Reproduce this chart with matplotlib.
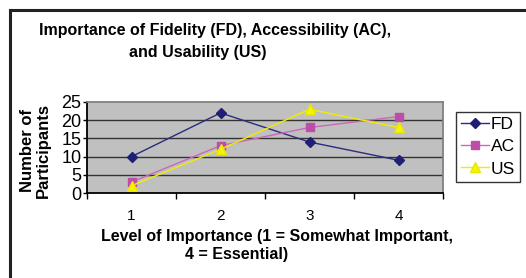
import matplotlib.pyplot as plt
from matplotlib.lines import Line2D

levels = [1, 2, 3, 4]
fd = [10, 22, 14, 9]
ac = [3, 13, 18, 21]
us = [2, 12, 23, 18]
yticks = [0, 5, 10, 15, 20, 25]

plt.rcParams['font.family'] = ['Liberation Sans', 'DejaVu Sans']

W, H = 526, 278
fig = plt.figure(figsize=(W / 100, H / 100), dpi=100)

# chart area frame (cut off at right/bottom in the original)
fig.add_artist(Line2D([10 / W, 10 / W], [0, 1 - 10 / H], color='#222222', lw=2.2))
fig.add_artist(Line2D([10 / W, 524 / W], [1 - 10 / H, 1 - 10 / H], color='#222222', lw=2.2))

ax = fig.add_axes([87 / W, 1 - 193 / H, (443 - 87) / W, (193 - 102) / H])
ax.set_facecolor('#c0c0c0')

ax.plot(levels, fd, color='#2b2b80', lw=1, marker='D', ms=5, mfc='#1f1f78', mec='#1f1f78', label='FD')
ax.plot(levels, ac, color='#cc66bb', lw=1, marker='s', ms=6, mfc='#bb4fa8', mec='#bb4fa8', label='AC')
ax.plot(levels, us, color='#eeee00', lw=1, marker='^', ms=7, mfc='#f5f500', mec='#e8e800', label='US')

ax.set_xlim(0.5, 4.5)
ax.set_ylim(0, 25)
ax.set_yticks(yticks)
ax.set_yticklabels([str(v) for v in yticks], fontsize=13)
ax.set_xticks([0.5, 1.5, 2.5, 3.5, 4.5])
ax.set_xticklabels([])
for x in levels:
    ax.text(x, -0.25, str(x), transform=ax.get_xaxis_transform(), ha='center', va='center', fontsize=11)
ax.tick_params(axis='x', direction='out', length=4, width=1, color='black')
ax.tick_params(axis='y', direction='out', length=3, width=1, color='black', pad=1)

for v in yticks[1:-1]:
    ax.axhline(v, color='#333333', lw=1, zorder=0.5)

ax.spines['left'].set_color('black')
ax.spines['bottom'].set_color('black')
ax.spines['top'].set_color('#808080')
ax.spines['right'].set_color('#808080')
for s in ax.spines.values():
    s.set_linewidth(1.3)

fig.text(28 / W, 1 - 151 / H, 'Number of', rotation=90, ha='center', va='center', fontsize=12, fontweight='bold')
fig.text(43 / W, 1 - 150 / H, 'Participants', rotation=90, ha='center', va='center', fontsize=12, fontweight='bold')

fig.text(215 / W, 1 - 31 / H, 'Importance of Fidelity (FD), Accessibility (AC),', ha='center', va='center', fontsize=11.5, fontweight='bold')
fig.text(198 / W, 1 - 53 / H, 'and Usability (US)', ha='center', va='center', fontsize=11.5, fontweight='bold')

fig.text(277 / W, 1 - 237 / H, 'Level of Importance (1 = Somewhat Important,', ha='center', va='center', fontsize=11.5, fontweight='bold')
fig.text(237 / W, 1 - 254 / H, '4 = Essential)', ha='center', va='center', fontsize=11.5, fontweight='bold')

leg = fig.legend(loc='upper left', bbox_to_anchor=(456 / W, 1 - 112 / H), fontsize=12.5,
                 frameon=True, fancybox=False, edgecolor='black', handlelength=1.6,
                 handletextpad=0.1, borderpad=0.3, labelspacing=0.4, borderaxespad=0)
leg.get_frame().set_linewidth(1)

fig.savefig('out.png', dpi=100)
